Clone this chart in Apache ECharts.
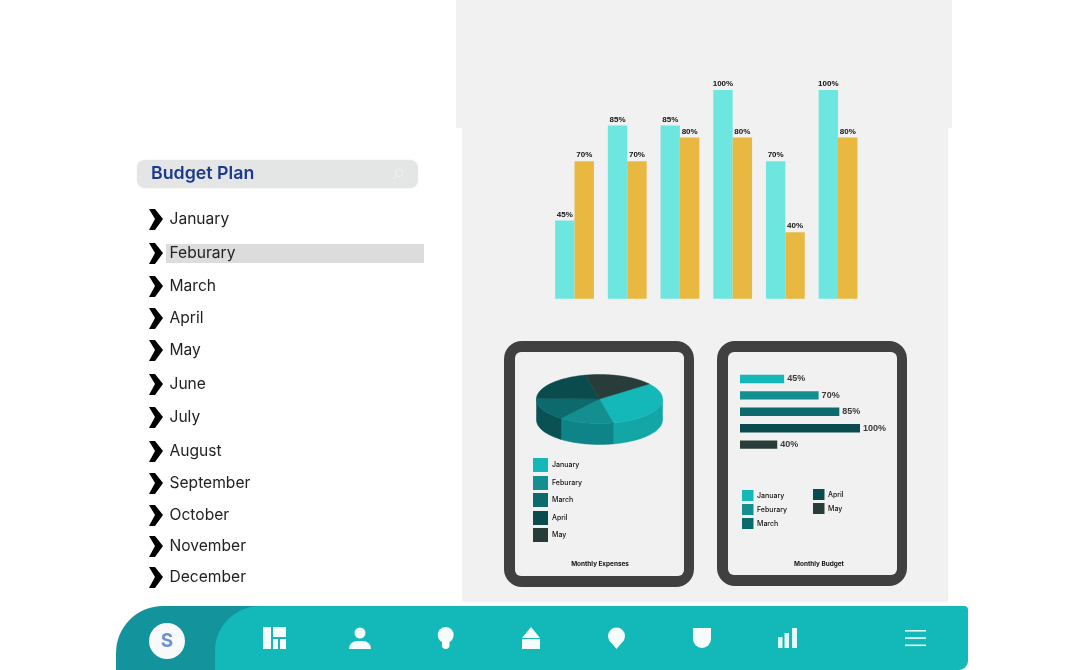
<!DOCTYPE html>
<html>
	<head>
		<meta charset="utf-8" />
		<title>Budget Plan</title>
		<script src="https://cdn.jsdelivr.net/npm/echarts@6/dist/echarts.min.js"></script>
		<style>
			html, body { margin: 0; padding: 0; background: #fff; }
		</style>
	</head>
	<body>
		<div id="main" style="width: 1068px;height:670px;"></div>
		<script type="text/javascript">
			// data
			var listMonths = ['January', 'Feburary', 'March', 'April', 'May', 'June', 'July', 'August', 'September', 'October', 'November', 'December'];
			var groupNames = ['January', 'Feburary', 'March', 'April', 'May', 'June'];
			var cyanValues = [45, 85, 85, 100, 70, 100];
			var orangeValues = [70, 70, 80, 80, 40, 80];
			var shortMonths = ['January', 'Feburary', 'March', 'April', 'May'];
			var pieValues = [32, 14, 15, 21, 18];
			var budgetValues = [45, 70, 85, 100, 40];

			// styles
			var uiFont = 'Inter, "Open Sans", sans-serif';
			var labelFont = '"Liberation Sans", sans-serif';
			var monthColors = ['#14b8b8', '#138f90', '#0d6a6c', '#0a4b4d', '#283d3a'];
			var sideColors = ['#12a6a6', '#0f8488', '#0a5154', '#083a3c', '#1e2e2c'];
			var listY = [219, 253, 286, 318, 350, 384, 417, 451, 483, 515, 546, 577];
			var iconWhite = '#f6fbfb';

			var myChart = echarts.init(document.getElementById('main'));

			function rect(x, y, w, h, fill, r) {
				return {
					type: 'rect',
					silent: true,
					shape: { x: x, y: y, width: w, height: h, r: r || 0 },
					style: { fill: fill }
				};
			}

			function text(str, x, y, size, weight, fill, align) {
				return {
					type: 'text',
					silent: true,
					x: x,
					y: y,
					style: {
						text: str,
						fontFamily: uiFont,
						fontSize: size,
						fontWeight: weight,
						fill: fill,
						align: align || 'left',
						verticalAlign: 'middle'
					}
				};
			}

			function poly(points, fill) {
				return {
					type: 'polygon',
					silent: true,
					shape: { points: points },
					style: { fill: fill || iconWhite }
				};
			}

			function circle(cx, cy, r, fill) {
				return {
					type: 'circle',
					silent: true,
					shape: { cx: cx, cy: cy, r: r },
					style: { fill: fill || iconWhite }
				};
			}

			var els = [];

			// grey panels
			els.push(rect(456, 0, 496, 128, '#f1f1f1'));
			els.push(rect(462, 128, 486, 474, '#f1f1f1'));

			// search box
			var box = rect(137, 160, 281, 28, '#e4e6e6', 8);
			box.style.shadowBlur = 2;
			box.style.shadowColor = 'rgba(0,0,0,0.08)';
			els.push(box);
			els.push(text('Budget Plan', 151, 174, 17.8, 600, '#1b3a8c'));
			els.push({
				type: 'circle',
				silent: true,
				shape: { cx: 399, cy: 173, r: 3.6 },
				style: { fill: 'none', stroke: '#eef0f0', lineWidth: 1.2 }
			});
			els.push({
				type: 'line',
				silent: true,
				shape: { x1: 396.5, y1: 175.8, x2: 393.5, y2: 179 },
				style: { stroke: '#eef0f0', lineWidth: 1.2 }
			});

			// month list
			els.push(rect(166, 244, 258, 19, '#dcdcdc'));
			listMonths.forEach(function(m, i) {
				var y = listY[i];
				els.push(poly([[149, y - 10], [155, y - 10], [163, y], [155, y + 11], [149, y + 11], [155, y]], '#000'));
				els.push(text(m, 169.5, y, 15.6, 400, '#222'));
			});

			// tablets
			els.push(rect(504, 341, 190, 246, '#404040', 18));
			els.push(rect(515, 352, 169, 224, '#f1f1f1', 6));
			els.push(rect(717, 341, 190, 245, '#404040', 18));
			els.push(rect(728, 352, 169, 223, '#f1f1f1', 6));

			// pie legend
			var pieLegendY = [458, 476, 493, 511, 528];
			shortMonths.forEach(function(m, i) {
				els.push(rect(533, pieLegendY[i], 15, 14, monthColors[i]));
				els.push(text(m, 552, pieLegendY[i] + 7, 7, 500, '#111'));
			});
			els.push(text('Monthly Expenses', 600, 564, 6.4, 700, '#111', 'center'));

			// budget legend
			var budgetLegend = [[742, 490], [742, 504], [742, 518], [813, 489], [813, 503]];
			shortMonths.forEach(function(m, i) {
				var p = budgetLegend[i];
				els.push(rect(p[0], p[1], 11.5, 11, monthColors[i]));
				els.push(text(m, p[0] + 15, p[1] + 5.5, 7, 500, '#111'));
			});
			els.push(text('Monthly Budget', 819, 564, 6.4, 700, '#111', 'center'));

			// bottom bar
			els.push(rect(116, 606, 174, 64, '#13939b', [47, 0, 0, 0]));
			els.push(rect(215, 606, 753, 64, '#13b8b8', [45, 4, 9, 0]));
			els.push(circle(167, 641, 18, '#f7f9fb'));
			els.push(text('S', 167, 641, 19, 700, '#6f90d2', 'center'));
			// dashboard
			els.push(rect(263, 627, 8, 22, iconWhite));
			els.push(rect(273, 627, 13, 10, iconWhite));
			els.push(rect(273, 639, 5, 10, iconWhite));
			els.push(rect(280, 639, 6, 10, iconWhite));
			// person
			els.push(circle(360, 633, 5.5));
			els.push(rect(349, 641, 22, 8, iconWhite, [8, 8, 0, 0]));
			// bulb
			els.push(circle(445.7, 635, 8));
			els.push(rect(442, 640, 7.5, 9, iconWhite, [0, 0, 4, 4]));
			// house
			els.push(poly([[531, 627], [540, 638], [522, 638]]));
			els.push(rect(522, 639, 18, 10, iconWhite));
			// pin
			els.push(circle(616.5, 636, 8.5));
			els.push(poly([[609, 640], [624, 640], [616.5, 649]]));
			// shield
			els.push(rect(693, 628, 18, 20, iconWhite, [0, 0, 9, 9]));
			// bars
			els.push(rect(778, 637, 4.5, 11, '#e0fbfb'));
			els.push(rect(784.5, 633, 4.5, 15, '#e0fbfb'));
			els.push(rect(792, 628, 5, 20, '#e0fbfb'));
			// menu
			els.push(rect(905, 630, 21, 1.6, '#e6fbfb'));
			els.push(rect(905, 637.3, 21, 1.6, '#e6fbfb'));
			els.push(rect(905, 644.5, 21, 1.6, '#e6fbfb'));

			// tilted pie, angles come from pieValues
			var pieTotal = pieValues.reduce(function(a, b) { return a + b; }, 0);
			var pieStart = -38;
			var pieCx = 599.5, pieCy = 399, pieRx = 63, pieRy = 24.5, pieDepth = 21;

			function arcPoints(from, to, dy) {
				var pts = [];
				var n = Math.max(2, Math.ceil(Math.abs(to - from) / 2));
				for(var k = 0; k <= n; k++) {
					var a = (from + (to - from) * k / n) * Math.PI / 180;
					pts.push([pieCx + pieRx * Math.cos(a), pieCy + pieRy * Math.sin(a) + dy]);
				}
				return pts;
			}

			function renderSlice(params, api) {
				var i = params.dataIndex;
				var before = 0;
				for(var k = 0; k < i; k++) before += pieValues[k];
				var from = pieStart + before / pieTotal * 360;
				var to = from + api.value(0) / pieTotal * 360;
				var children = [];
				// only the front half of the wall can be seen
				var a0 = Math.max(from, 0), a1 = Math.min(to, 180);
				if(a1 > a0) {
					var front = arcPoints(a0, a1, 0);
					var back = arcPoints(a1, a0, pieDepth);
					children.push({
						type: 'polygon',
						shape: { points: front.concat(back) },
						style: { fill: sideColors[i], stroke: sideColors[i], lineWidth: 0.5 }
					});
				}
				children.push({
					type: 'polygon',
					shape: { points: [[pieCx, pieCy]].concat(arcPoints(from, to, 0)) },
					style: { fill: monthColors[i], stroke: monthColors[i], lineWidth: 0.5 }
				});
				return { type: 'group', children: children };
			}

			var option = {
				animation: false,
				backgroundColor: '#fff',
				graphic: { elements: els },
				grid: [
					{ left: 548.2, width: 316.2, top: 90, height: 208.7 },
					{ left: 740, width: 120, top: 370.8, height: 82 }
				],
				xAxis: [
					{ type: 'category', gridIndex: 0, data: groupNames, show: false },
					{ type: 'value', gridIndex: 1, min: 13, max: 100, show: false }
				],
				yAxis: [
					{ type: 'value', gridIndex: 0, min: 12, max: 100, show: false },
					{ type: 'category', gridIndex: 1, data: shortMonths, inverse: true, show: false }
				],
				series: [
					{
						type: 'bar',
						name: 'cyan',
						xAxisIndex: 0,
						yAxisIndex: 0,
						data: cyanValues,
						barWidth: 19.4,
						barGap: 0,
						itemStyle: { color: '#6ee6e0' },
						label: {
							show: true,
							position: 'top',
							distance: 2,
							formatter: '{c}%',
							fontFamily: labelFont,
							fontWeight: 'bold',
							fontSize: 8,
							color: '#111'
						}
					},
					{
						type: 'bar',
						name: 'orange',
						xAxisIndex: 0,
						yAxisIndex: 0,
						data: orangeValues,
						barWidth: 19.4,
						barGap: 0,
						itemStyle: { color: '#e8b840' },
						label: {
							show: true,
							position: 'top',
							distance: 2,
							formatter: '{c}%',
							fontFamily: labelFont,
							fontWeight: 'bold',
							fontSize: 8,
							color: '#111'
						}
					},
					{
						type: 'bar',
						name: 'budget',
						xAxisIndex: 1,
						yAxisIndex: 1,
						data: budgetValues,
						barWidth: 8.4,
						itemStyle: {
							color: function(p) {
								return monthColors[p.dataIndex];
							}
						},
						label: {
							show: true,
							position: 'right',
							distance: 3,
							formatter: '{c}%',
							fontFamily: labelFont,
							fontWeight: 'bold',
							fontSize: 9,
							color: '#3a3a3a'
						}
					},
					{
						type: 'custom',
						name: 'expenses',
						coordinateSystem: 'none',
						data: pieValues,
						renderItem: renderSlice,
						silent: true
					}
				]
			};

			myChart.setOption(option);
		</script>
	</body>
</html>
